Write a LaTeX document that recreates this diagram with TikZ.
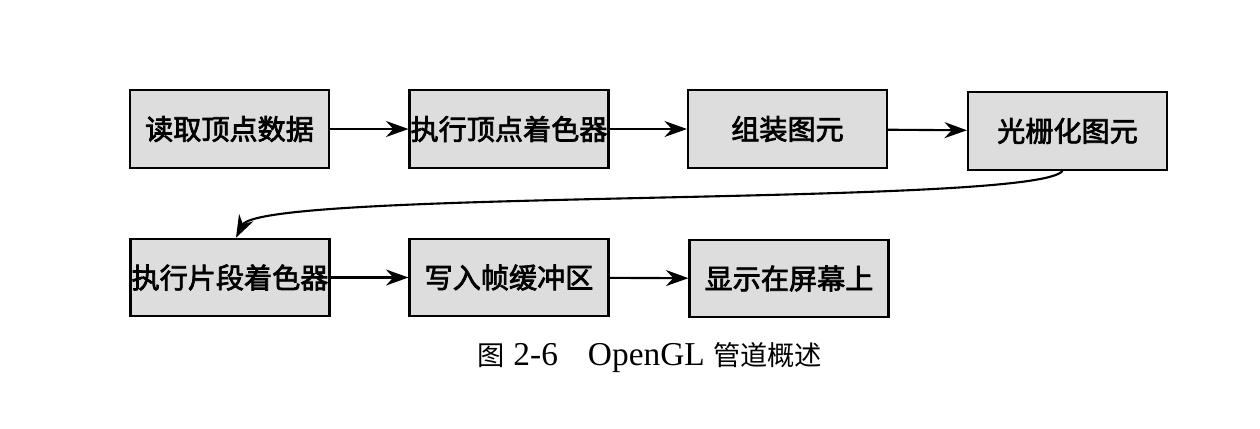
\documentclass[tikz,border=0pt]{standalone}
\usepackage{fontspec}
\setmainfont{Liberation Serif}
\newfontfamily\cjk{Noto Sans CJK SC}
\newfontfamily\cjkbox{Noto Sans CJK SC}[FakeBold=2.5]
\usepackage{xcolor}
\usetikzlibrary{arrows.meta}
\definecolor{boxfill}{RGB}{221,221,221}

\begin{document}
\begin{tikzpicture}[
  line width=1.2pt,  stage/.style={rectangle,draw,fill=boxfill,minimum width=3.98cm,minimum height=1.55cm,inner sep=0pt,font=\cjkbox\fontsize{16}{19}\selectfont},  flow/.style={-{Stealth[length=4.5mm,width=3.2mm]}}
]
  \useasboundingbox (0,0) rectangle (25.2,-8.56);
  \node[stage] (n1) at (4.59,-2.58) {读取顶点数据};
  \node[stage] (n2) at (10.18,-2.58) {执行顶点着色器};
  \node[stage] (n3) at (15.75,-2.58) {组装图元};
  \node[stage] (n4) at (21.35,-2.62) {光栅化图元};
  \node[stage] (n5) at (4.60,-5.55) {执行片段着色器};
  \node[stage] (n6) at (10.18,-5.55) {写入帧缓冲区};
  \node[stage] (n7) at (15.78,-5.57) {显示在屏幕上};
  \draw[flow] (n1) -- (n2);
  \draw[flow] (n2) -- (n3);
  \draw[flow] (n3) -- (n4);
  \draw[flow] ([xshift=-1mm]n4.south) .. controls +(-0.5,-0.72) and +(0.5,0.98) .. ([xshift=1.2mm]n5.north);
  \draw[flow] (n5) -- (n6);
  \draw[flow] (n6) -- (n7);
  \node (cap) at (13.0,-7.16) {{\cjk\fontsize{15.5}{18}\selectfont 图}\fontsize{19}{22}\selectfont\ 2-6\hspace{0.6cm}OpenGL {\cjk\fontsize{15.5}{18}\selectfont 管道概述}};
\end{tikzpicture}
\end{document}
